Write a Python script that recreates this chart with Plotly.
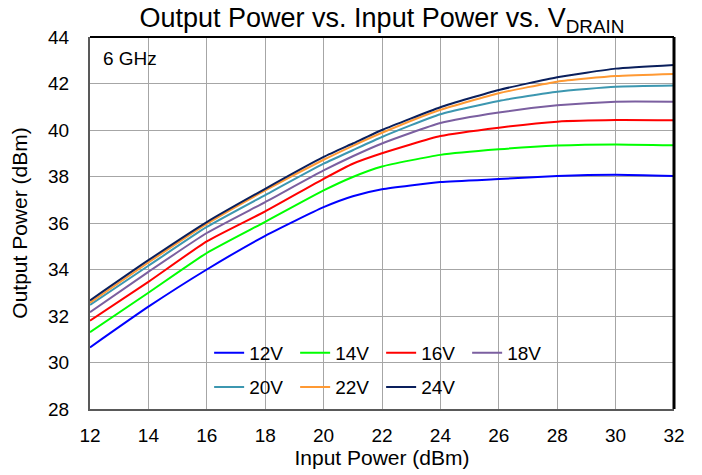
import plotly.graph_objects as go

# Input power (dBm)
pin = [12, 14, 16, 18, 20, 21, 22, 24, 26, 28, 30, 32]

# Output power (dBm) per drain voltage
v12 = [30.65, 32.40, 34.00, 35.45, 36.68, 37.15, 37.45, 37.76, 37.89, 38.02, 38.07, 38.02]
v14 = [31.30, 33.00, 34.71, 36.05, 37.40, 37.98, 38.43, 38.93, 39.17, 39.33, 39.38, 39.34]
v16 = [31.80, 33.47, 35.21, 36.50, 37.90, 38.55, 39.00, 39.74, 40.10, 40.36, 40.43, 40.42]
v18 = [32.16, 33.90, 35.57, 36.90, 38.26, 38.87, 39.42, 40.30, 40.75, 41.06, 41.22, 41.22]
v20 = [32.48, 34.16, 35.83, 37.20, 38.55, 39.13, 39.70, 40.68, 41.25, 41.65, 41.86, 41.91]
v22 = [32.57, 34.30, 35.96, 37.40, 38.72, 39.32, 39.88, 40.87, 41.58, 42.08, 42.32, 42.41]
v24 = [32.67, 34.40, 36.04, 37.47, 38.84, 39.42, 40.00, 40.98, 41.72, 42.27, 42.64, 42.80]

row1 = [("12V", v12, "#0000ff"), ("14V", v14, "#00ff00"),
        ("16V", v16, "#ff0000"), ("18V", v18, "#7b5fa0")]
row2 = [("20V", v20, "#3c97b0"), ("22V", v22, "#ff9933"), ("24V", v24, "#0a1f5c")]

font = "Liberation Sans, Arial, sans-serif"

fig = go.Figure()
for leg, group in (("legend", row1), ("legend2", row2)):
    for name, ys, col in group:
        fig.add_trace(go.Scatter(
            x=pin, y=ys, name=name, mode="lines", legend=leg,
            line=dict(color=col, width=2, shape="spline", smoothing=0.5),
        ))

legend_common = dict(orientation="h", xanchor="left", yanchor="middle",
                     entrywidth=41, entrywidthmode="pixels",
                     bgcolor="rgba(0,0,0,0)", font=dict(size=19, family=font))

# page body has an 8px margin, so the figure is a bit smaller than the window
fig.update_layout(
    width=694, height=467,
    margin=dict(l=82, r=28, t=29, b=66, autoexpand=False),
    paper_bgcolor="white", plot_bgcolor="white",
    font=dict(family=font, size=19, color="black"),
    title=dict(text="Output Power vs. Input Power vs. V<sub>DRAIN</sub>",
               x=0.5, xref="paper", xanchor="center",
               y=0.959, yanchor="bottom", yref="container",
               font=dict(size=27, family=font)),
    legend=dict(x=0.204, y=0.1505, **legend_common),
    legend2=dict(x=0.204, y=0.059, **legend_common),
    showlegend=True,
)

fig.update_xaxes(
    range=[12, 32], dtick=2, tick0=12, automargin=False,
    showgrid=True, gridcolor="#a6a6a6", gridwidth=1,
    showline=True, linecolor="#595959", linewidth=2,
    ticks="", zeroline=False, ticklabelstandoff=8,
    title=dict(text="Input Power (dBm)", font=dict(size=21), standoff=0),
)
fig.update_yaxes(
    range=[28, 44], dtick=2, tick0=28, automargin=False,
    showgrid=True, gridcolor="#a6a6a6", gridwidth=1,
    showline=True, linecolor="#595959", linewidth=2,
    ticks="", zeroline=False, ticklabelstandoff=15,
    title=dict(text="Output Power (dBm)", font=dict(size=21), standoff=22),
)

# black top and right frame
fig.add_shape(type="line", xref="paper", yref="paper", x0=1, x1=1, y0=0, y1=1,
              line=dict(color="black", width=3))
fig.add_shape(type="line", xref="paper", yref="paper", x0=0, x1=1, y0=1, y1=1,
              line=dict(color="black", width=2))

# white boxes that hide the grid behind the legend and the frequency label
fig.add_shape(type="rect", xref="paper", yref="paper", x0=0.197, x1=0.798,
              y0=0.016, y1=0.199, layer="between",
              fillcolor="white", line=dict(width=0))
fig.add_shape(type="rect", xref="paper", yref="paper", x0=0.003, x1=0.128,
              y0=0.8925, y1=0.997, layer="between",
              fillcolor="white", line=dict(width=0))

fig.add_annotation(text="6 GHz", xref="paper", yref="paper", x=0.0685, y=0.942,
                   xanchor="center", yanchor="middle", showarrow=False,
                   font=dict(size=19, family=font))

fig.write_html("out.html")
